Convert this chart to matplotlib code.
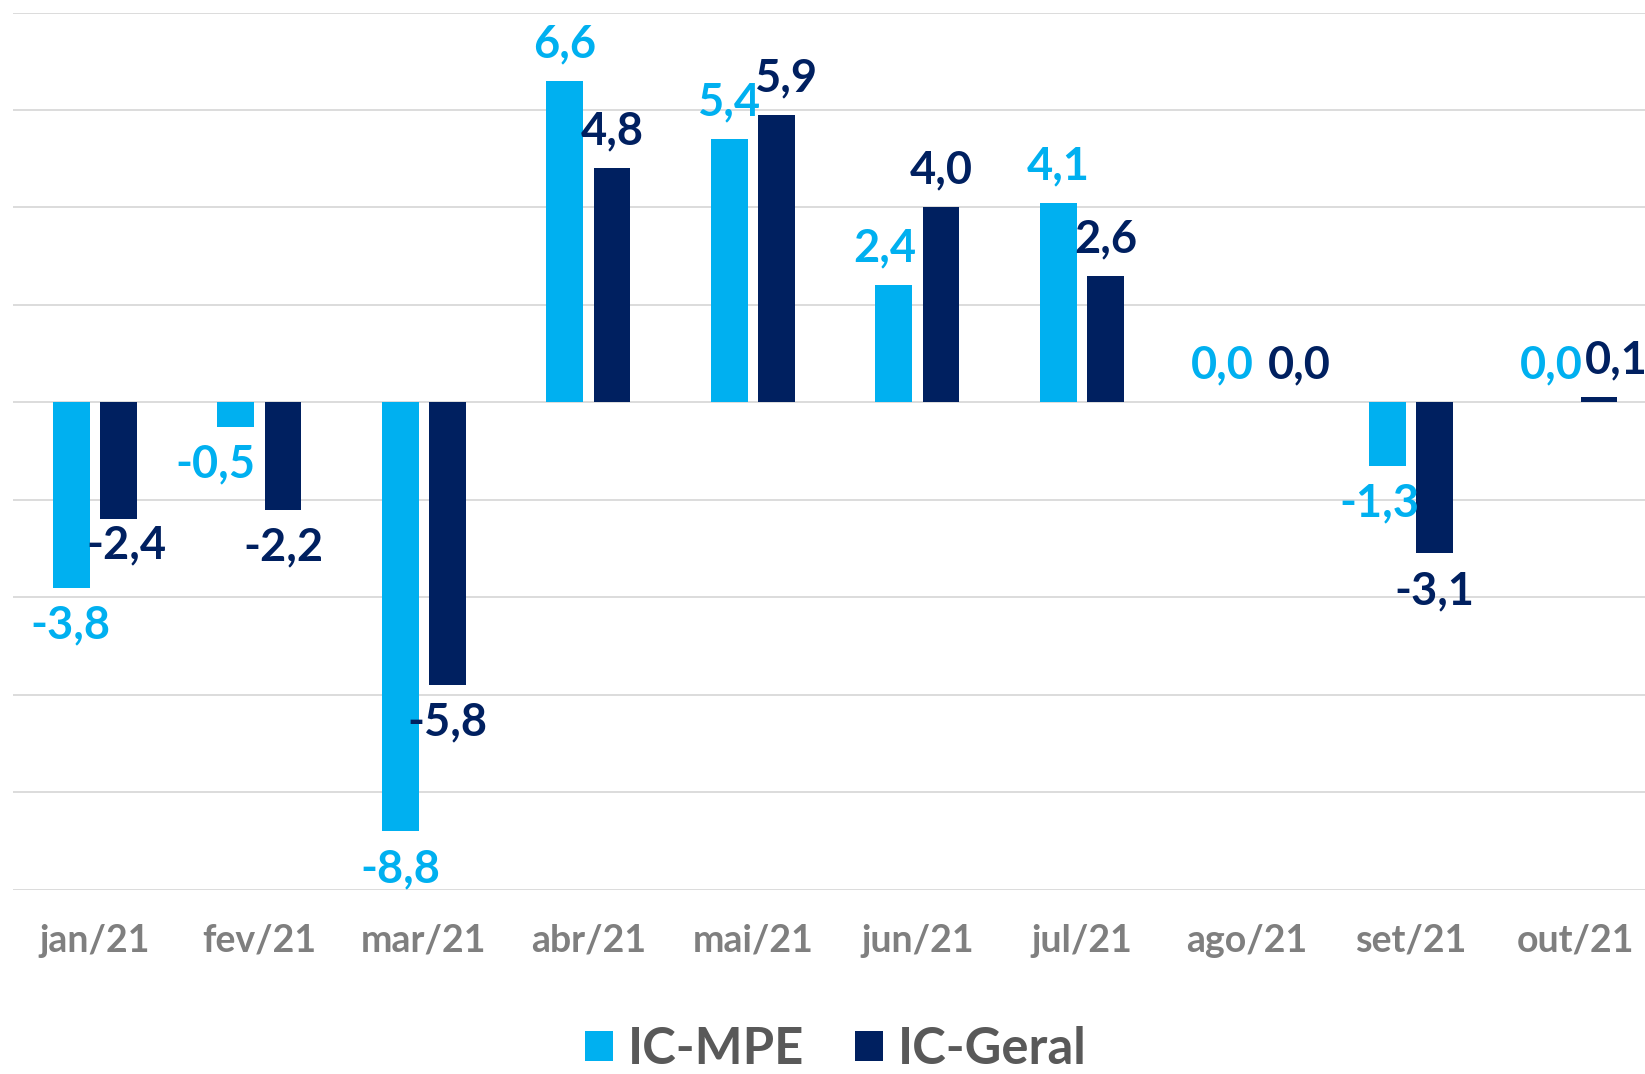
import matplotlib
matplotlib.use("Agg")
import matplotlib.pyplot as plt
import numpy as np

months = ["jan/21", "fev/21", "mar/21", "abr/21", "mai/21", "jun/21",
          "jul/21", "ago/21", "set/21", "out/21"]
ic_mpe = [-3.8, -0.5, -8.8, 6.6, 5.4, 2.4, 4.1, 0.0, -1.3, 0.0]
ic_geral = [-2.4, -2.2, -5.8, 4.8, 5.9, 4.0, 2.6, 0.0, -3.1, 0.1]
series_names = ["IC-MPE", "IC-Geral"]

# label nudges (pixels) to mimic the original's manual placement
mpe_dx = [-1, -20, 0, 0, 0, -9, 0, 0, -8, 0]
geral_dx = [8, 0, 0, 0, 10, 0, 0, 29, 0, 17]
geral_dy = [12, 0, 0, 0, 0, 0, 0, 0, 0, 0]

C_MPE = "#00B0F0"
C_GERAL = "#002060"
FONT = ["Lato", "DejaVu Sans"]

fig = plt.figure(figsize=(16.45, 10.74), dpi=100)
ax = fig.add_axes([0.00766, 0.1717, 1.0, 0.8166])

x = np.arange(len(months))
w = 0.2235
off = 0.1437
b1 = ax.bar(x - off, ic_mpe, w, color=C_MPE, label=series_names[0], zorder=3)
b2 = ax.bar(x + off, ic_geral, w, color=C_GERAL, label=series_names[1], zorder=3)

ax.set_xlim(-0.5, len(months) - 0.5)
ax.set_ylim(-10, 8)
ax.set_yticks(np.arange(-10, 9, 2))
ax.yaxis.grid(True, color="#D9D9D9", linewidth=1.3, zorder=0)
ax.set_axisbelow(True)
for s in ax.spines.values():
    s.set_visible(False)
ax.tick_params(axis="y", left=False, labelleft=False)
ax.tick_params(axis="x", bottom=False, pad=21)
ax.set_xticks(x)
ax.set_xticklabels(months, fontfamily=FONT, fontweight="bold",
                   fontsize=27, color="#7F7F7F")

def fmt(v):
    return f"{v:.1f}".replace(".", ",")

for vals, xs, color, dxs, dys in ((ic_mpe, x - off, C_MPE, mpe_dx, [0] * len(months)),
                                  (ic_geral, x + off, C_GERAL, geral_dx, geral_dy)):
    for xi, v, dx, ddy in zip(xs, vals, dxs, dys):
        dy = 26.4 if v >= 0 else -27.3
        ax.annotate(fmt(v), (xi, v), xytext=(dx * 0.72, dy + ddy * 0.72),
                    textcoords="offset points", ha="center", va="center",
                    fontfamily=FONT, fontweight="bold", fontsize=32.5,
                    color=color, zorder=5, annotation_clip=False)

leg = fig.legend(handles=[b1, b2], labels=series_names, loc="center",
                 bbox_to_anchor=(0.508, 0.023), ncol=2, frameon=False,
                 prop={"family": FONT, "weight": "bold", "size": 36.5},
                 handlelength=0.55, handleheight=0.55, handletextpad=0.3,
                 columnspacing=1.0, borderaxespad=0, borderpad=0)
for t in leg.get_texts():
    t.set_color("#595959")

fig.savefig("out.png", dpi=100)
